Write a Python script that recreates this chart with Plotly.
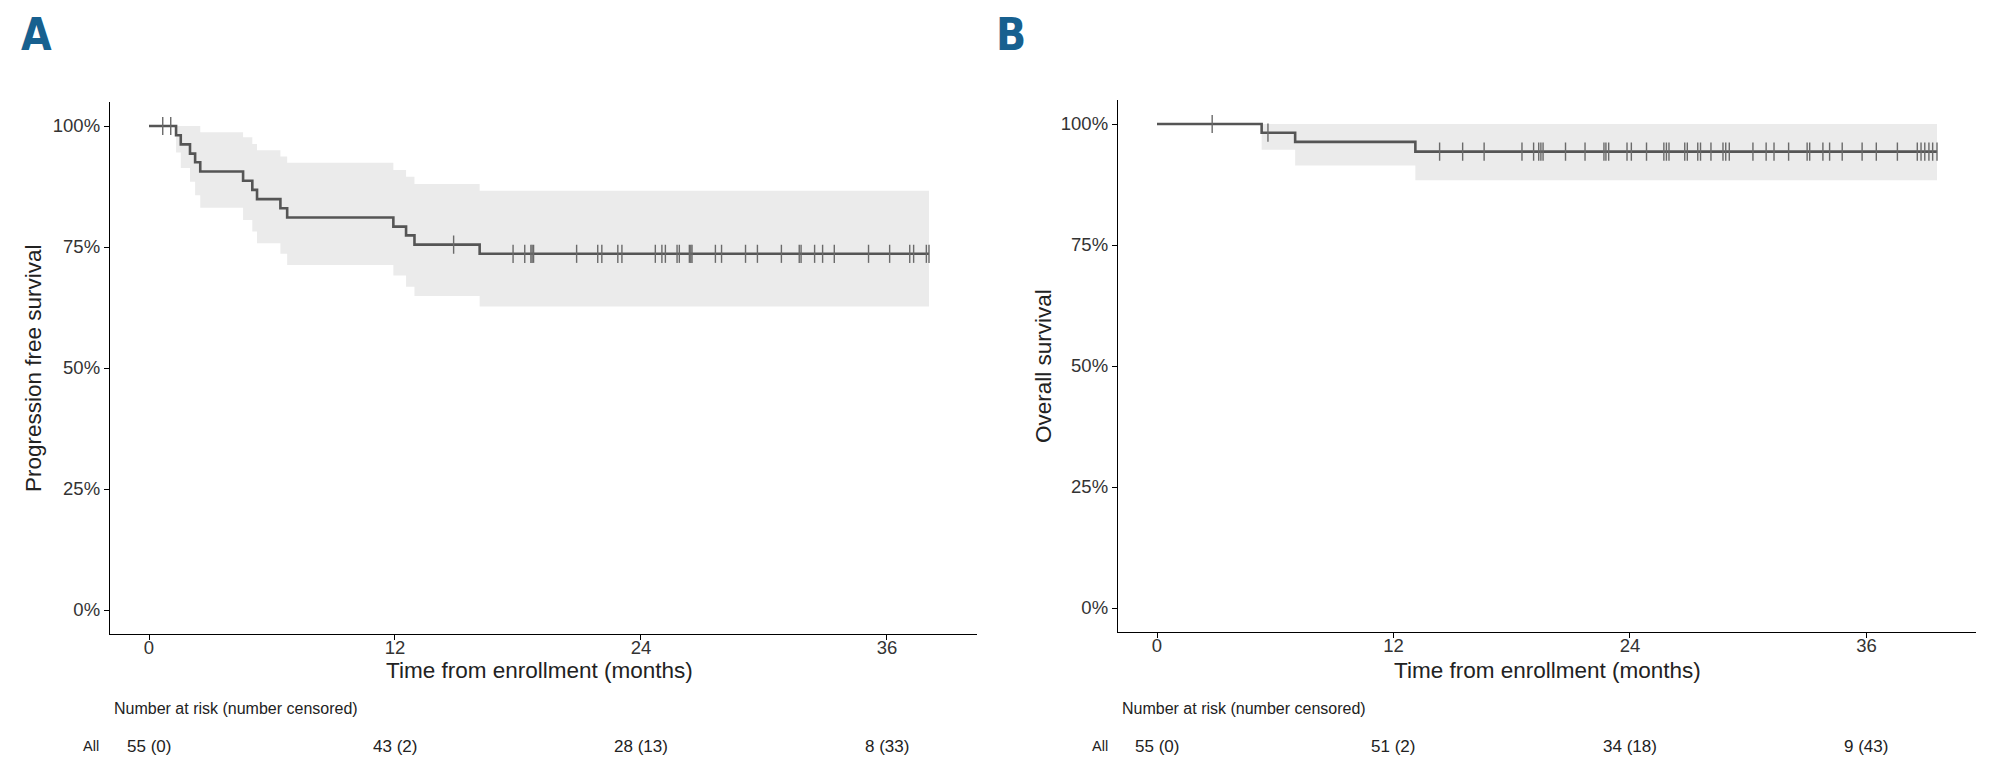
import numpy as np
import plotly.graph_objects as go

# ---------------- Data ----------------
# Panel A: progression free survival
a_event_times = [1.32, 1.55, 2.00, 2.25, 2.50, 4.59, 5.04, 5.27, 6.41, 6.74,
                 11.92, 12.54, 12.95, 16.13]
a_surv = [0.981, 0.962, 0.943, 0.925, 0.906, 0.887, 0.868, 0.849, 0.830, 0.811,
          0.792, 0.774, 0.755, 0.736]
a_lower = [0.945, 0.913, 0.885, 0.857, 0.831, 0.806, 0.782, 0.758, 0.736, 0.713,
           0.691, 0.668, 0.649, 0.627]
a_upper = [1.0, 1.0, 1.0, 1.0, 0.987, 0.977, 0.963, 0.950, 0.937, 0.924,
           0.909, 0.895, 0.880, 0.866]
a_censor = [0.67, 1.06, 14.86, 17.76, 18.33, 18.63, 18.69, 18.76, 20.86, 21.89,
            22.09, 22.87, 23.07, 24.70, 25.02, 25.19, 25.76, 25.87, 26.36, 26.43,
            26.49, 27.63, 27.93, 29.10, 29.68, 30.85, 31.72, 31.81, 32.47, 32.86,
            33.43, 35.10, 36.13, 37.11, 37.30, 37.92, 38.05]
a_end = 38.05

# Panel B: overall survival
b_event_times = [5.31, 7.01, 13.11]
b_surv = [0.982, 0.963, 0.943]
b_lower = [0.947, 0.914, 0.884]
b_upper = [1.0, 1.0, 1.0]
b_censor = [2.80, 5.63, 14.34, 15.51, 16.60, 18.52, 19.11, 19.37, 19.48, 19.59,
            20.73, 21.72, 22.68, 22.78, 22.92, 23.85, 24.07, 24.84, 25.72, 25.85,
            25.98, 26.78, 26.91, 27.44, 27.58, 28.11, 28.72, 28.86, 29.04, 30.24,
            30.91, 31.31, 32.05, 32.99, 33.12, 33.79, 34.13, 34.77, 35.78, 36.50,
            37.57, 38.58, 38.77, 38.96, 39.17, 39.36, 39.58]
b_end = 39.58

risk_times = [0, 12, 24, 36]
a_risk = ["55 (0)", "43 (2)", "28 (13)", "8 (33)"]
b_risk = ["55 (0)", "51 (2)", "34 (18)", "9 (43)"]

y_ticks = [0, 0.25, 0.5, 0.75, 1.0]
x_ticks = [0, 12, 24, 36]

# ---------------- Styling ----------------
W, H = 2000, 767
FONT = "Liberation Sans, Arial, Helvetica, sans-serif"
LINE_COL = "#555555"
BAND_COL = "#ebebeb"
CENS_COL = "#6a6a6a"
TXT = "#222222"


def px_x(p):
    return p / W


def px_y(p):
    return 1 - p / H


def step_value(times, vals, t):
    idx = np.searchsorted(np.array(times), t, side="right") - 1
    return 1.0 if idx < 0 else vals[idx]


fig = go.Figure()


def add_panel(ev, surv, lo, up, cens, end, xa, ya):
    xs = [0] + list(ev) + [end]
    s = [1.0] + list(surv) + [surv[-1]]
    l = [1.0] + list(lo) + [lo[-1]]
    u = [1.0] + list(up) + [up[-1]]
    fig.add_trace(go.Scatter(x=xs, y=l, mode="lines", line=dict(width=0, shape="hv"),
                             hoverinfo="skip", showlegend=False, xaxis=xa, yaxis=ya))
    fig.add_trace(go.Scatter(x=xs, y=u, mode="lines", line=dict(width=0, shape="hv"),
                             fill="tonexty", fillcolor=BAND_COL,
                             hoverinfo="skip", showlegend=False, xaxis=xa, yaxis=ya))
    fig.add_trace(go.Scatter(x=xs, y=s, mode="lines",
                             line=dict(color=LINE_COL, width=2.6, shape="hv"),
                             showlegend=False, xaxis=xa, yaxis=ya))
    cy = [step_value(ev, surv, t) for t in cens]
    fig.add_trace(go.Scatter(x=cens, y=cy, mode="markers",
                             marker=dict(symbol="line-ns", size=13,
                                         line=dict(color=CENS_COL, width=1.4)),
                             showlegend=False, xaxis=xa, yaxis=ya))


add_panel(a_event_times, a_surv, a_lower, a_upper, a_censor, a_end, "x", "y")
add_panel(b_event_times, b_surv, b_lower, b_upper, b_censor, b_end, "x2", "y2")

# Panel geometry in pixels
A_L, A_R, A_T, A_B = 110, 977, 101.8, 634.2
B_L, B_R, B_T, B_B = 1118, 1976, 99.8, 632.2
a_ppm = (968 - A_L) / (1.1 * a_end)
a_xmax = 1.05 * a_end + (A_R - 968) / a_ppm

axis_common = dict(showline=True, linecolor="black", linewidth=1.4, ticks="outside",
                   ticklen=5, tickwidth=1.3, tickcolor="black", showgrid=False,
                   zeroline=False, tickfont=dict(family=FONT, size=18.5, color="#333333"))

fig.update_layout(
    width=W, height=H, margin=dict(l=0, r=0, t=0, b=0),
    paper_bgcolor="white", plot_bgcolor="white",
    xaxis=dict(domain=[px_x(A_L), px_x(A_R)], range=[-0.05 * a_end, a_xmax],
               tickvals=x_ticks, anchor="y", ticklabelstandoff=-9, **axis_common),
    yaxis=dict(domain=[px_y(A_B), px_y(A_T)], range=[-0.05, 1.05], tickvals=y_ticks,
               tickformat=".0%", anchor="x", **axis_common),
    xaxis2=dict(domain=[px_x(B_L), px_x(B_R)], range=[-0.05 * b_end, 1.05 * b_end],
                tickvals=x_ticks, anchor="y2", ticklabelstandoff=-9, **axis_common),
    yaxis2=dict(domain=[px_y(B_B), px_y(B_T)], range=[-0.05, 1.05], tickvals=y_ticks,
                tickformat=".0%", anchor="x2", **axis_common),
)

ann = []
# Panel letters
for letter, xp in [("A", 36), ("B", 1011)]:
    ann.append(dict(text="<b>%s</b>" % letter, x=px_x(xp), y=px_y(34), xref="paper",
                    yref="paper", showarrow=False, xanchor="center", yanchor="middle",
                    font=dict(family="Liberation Sans Narrow, DejaVu Sans Condensed, Arial Narrow, sans-serif",
                              size=44, color="#17608f")))
# Y-axis titles
for title, xp, yp in [("Progression free survival", 34, (A_T + A_B) / 2 + 0),
                      ("Overall survival", 1043, (B_T + B_B) / 2)]:
    ann.append(dict(text=title, x=px_x(xp), y=px_y(yp), xref="paper", yref="paper",
                    showarrow=False, textangle=-90, xanchor="center", yanchor="middle",
                    font=dict(family=FONT, size=22.5, color=TXT)))
# X-axis titles
for L, R in [(A_L, 968), (B_L, B_R)]:
    ann.append(dict(text="Time from enrollment (months)", x=px_x((L + R) / 2), y=px_y(670),
                    xref="paper", yref="paper", showarrow=False, xanchor="center",
                    yanchor="middle", font=dict(family=FONT, size=22.5, color=TXT)))
# Risk table header and "All" labels
for L, all_r in [(A_L, 101), (B_L, 1110)]:
    ann.append(dict(text="Number at risk (number censored)", x=px_x(L + 2), y=px_y(708),
                    xref="paper", yref="paper", showarrow=False, xanchor="left",
                    yanchor="middle", font=dict(family=FONT, size=16, color=TXT)))
    ann.append(dict(text="All", x=px_x(all_r), y=px_y(746), xref="paper", yref="paper",
                    showarrow=False, xanchor="right", yanchor="middle",
                    font=dict(family=FONT, size=14.5, color=TXT)))
# Risk numbers
for xref, labels in [("x", a_risk), ("x2", b_risk)]:
    for t, lab in zip(risk_times, labels):
        ann.append(dict(text=lab, x=t, y=px_y(746), xref=xref, yref="paper",
                        showarrow=False, xanchor="center", yanchor="middle",
                        font=dict(family=FONT, size=17, color=TXT)))

fig.update_layout(annotations=ann)

fig.write_html("out.html", config={"displayModeBar": False},
               post_script="document.body.style.margin='0';")
